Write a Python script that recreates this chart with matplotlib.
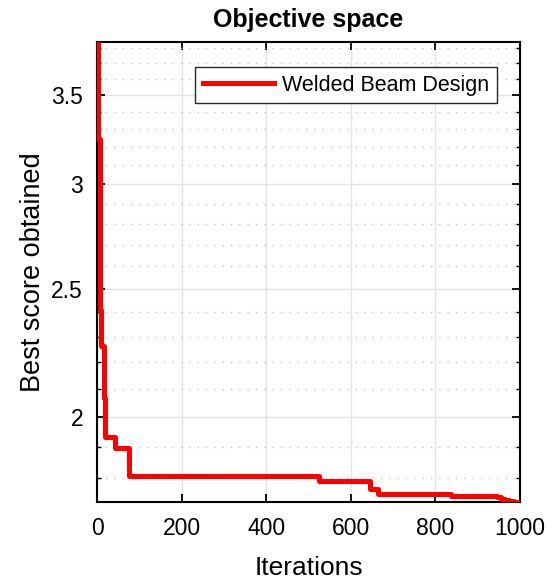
import numpy as np
import matplotlib
matplotlib.use("Agg")
import matplotlib.pyplot as plt
from matplotlib.ticker import FixedLocator, FixedFormatter, NullFormatter

plt.rcParams['font.family'] = ['Liberation Sans', 'DejaVu Sans']

# iteration where the best score changes, and the new best score
change_iters = [1, 2, 3, 6, 10, 16, 20, 43, 75, 525, 645, 665, 838, 945, 955, 965, 975, 985, 995, 1000]
best_scores = [3.84, 3.55, 3.245, 2.408, 2.265, 2.067, 1.934, 1.897, 1.805, 1.789,
               1.765, 1.750, 1.743, 1.740, 1.736, 1.732, 1.729, 1.727, 1.726, 1.726]

y_major = [2, 2.5, 3, 3.5]
y_major_labels = ["2", "2.5", "3", "3.5"]
y_minor = [1.8, 1.9, 2.1, 2.2, 2.3, 2.4, 2.6, 2.7, 2.8, 2.9, 3.1, 3.2, 3.3, 3.4, 3.6, 3.7, 3.8]
x_ticks = [0, 200, 400, 600, 800, 1000]

fig = plt.figure(figsize=(5.55, 5.8), dpi=100)
ax = fig.add_axes([97/555, 78/580, 423/555, 460/580])

ax.step(change_iters, best_scores, where='post', color='red', linewidth=3.6,
        label='Welded Beam Design', zorder=3)

ax.set_yscale('log')
ax.set_xlim(0, 1000)
ax.set_ylim(min(best_scores), max(best_scores))

ax.yaxis.set_major_locator(FixedLocator(y_major))
ax.yaxis.set_major_formatter(FixedFormatter(y_major_labels))
ax.yaxis.set_minor_locator(FixedLocator(y_minor))
ax.yaxis.set_minor_formatter(NullFormatter())
ax.set_xticks(x_ticks)

ax.grid(True, which='major', color='#e3e3e3', linewidth=1, linestyle='-')
ax.grid(True, which='minor', axis='y', color='#c4c4c4', linewidth=1, linestyle=(0, (1, 5)))
ax.set_axisbelow(True)

ax.tick_params(which='major', direction='in', length=6, width=1.3, top=True, right=True,
               labelsize=16.5, colors='black')
ax.tick_params(axis='y', which='major', pad=10)
ax.tick_params(axis='x', which='major', pad=11)
ax.tick_params(which='minor', direction='in', length=3, width=1, top=False, right=True)
for s in ax.spines.values():
    s.set_linewidth(1.5)
    s.set_color('black')

ax.set_title('Objective space', fontsize=18, fontweight='bold', pad=11)
ax.set_xlabel('Iterations', fontsize=19, labelpad=11)
ax.set_ylabel('Best score obtained', fontsize=19.5, labelpad=4)

leg = ax.legend(loc='upper right', bbox_to_anchor=(0.9456, 0.9457), borderaxespad=0,
                fontsize=15.5, fancybox=False, framealpha=1, edgecolor='#262626',
                handlelength=3.3, borderpad=0.35, handletextpad=0.4)
leg.get_frame().set_linewidth(1)

fig.savefig('out.png', dpi=100)
